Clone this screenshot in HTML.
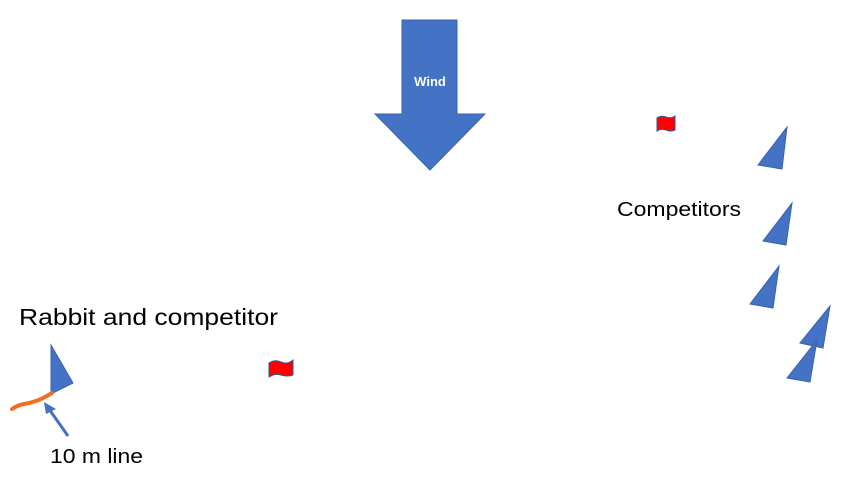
<!DOCTYPE html>
<html><head><style>
body{margin:0;width:853px;height:480px;background:#fff;overflow:hidden}
</style></head><body>
<svg width="853" height="480" xmlns="http://www.w3.org/2000/svg" font-family="Liberation Sans, sans-serif">
<polygon points="402,20 457,20 457,114 485,114 430,170 375,114 402,114" fill="#4472c4" stroke="#3a63ad" stroke-width="1"/>
<text x="430" y="86" fill="#fff" font-size="13" font-weight="bold" text-anchor="middle">Wind</text>
<g fill="#4472c4" stroke="#3a63ad" stroke-width="1">
<polygon points="787,127 758,165 782,169"/>
<polygon points="792,203 763,241 786,245"/>
<polygon points="779,266 750,304 773,308"/>
<polygon points="830,306 800,343 823,348"/>
<polygon points="817,340 787,378 810,382"/>
<polygon points="51,345 73,383 51,394"/>
</g>
<path d="M657,118 q4,-3 9,-1 t9,-1 v14 q-4,2 -9,0 t-9,1 z" fill="#f00" stroke="#2f5597" stroke-width="1"/>
<path d="M269,363 q6,-4 12,-1 t12,-2 v15 q-6,2 -12,0 t-12,2 z" fill="#f00" stroke="#2f5597" stroke-width="1"/>
<path d="M12,409 q6,-4 12,-5 t12,-3 t16,-8" fill="none" stroke="#f26c21" stroke-width="4" stroke-linecap="round"/>
<line x1="68" y1="436" x2="49" y2="409" stroke="#4472c4" stroke-width="3"/>
<polygon points="44,402 56,409 46,414" fill="#4472c4"/>
<text x="617" y="216" font-size="20" fill="#000" textLength="124" lengthAdjust="spacingAndGlyphs">Competitors</text>
<text x="19" y="325" font-size="23" fill="#000" textLength="259" lengthAdjust="spacingAndGlyphs">Rabbit and competitor</text>
<text x="50" y="463" font-size="20" fill="#000" textLength="93" lengthAdjust="spacingAndGlyphs">10 m line</text>
</svg>
</body></html>
